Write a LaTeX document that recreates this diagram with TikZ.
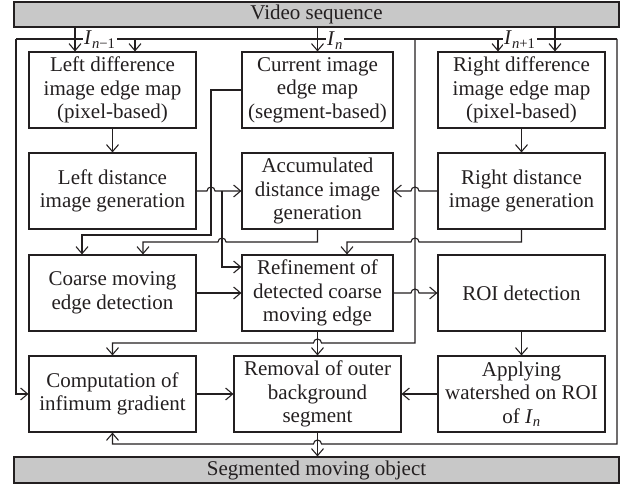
\documentclass[tikz,border=0pt]{standalone}
\usepackage{fontspec}
\setmainfont{Liberation Serif}
\usetikzlibrary{arrows.meta,calc}
\definecolor{ln}{HTML}{231F20}
\definecolor{barfill}{HTML}{C8C8C8}
\tikzset{
  txt/.style={font=\fontsize{21}{23.5}\selectfont, text=ln},
  box/.style={txt, draw=ln, line width=1.1pt, minimum width=167pt, minimum height=76pt, inner sep=0pt, align=center},
  narrow/.style={minimum width=151pt},
  bar/.style={txt, draw=ln, fill=barfill, line width=1.1pt, minimum width=605pt, minimum height=25pt, inner sep=0pt},
  wire/.style={draw=ln, line width=1.1pt},
  conn/.style={wire, -{Straight Barb[length=7pt,width=12pt]}},
  lab/.style={txt, fill=white, inner sep=1pt, anchor=base west}
}
\begin{document}
\begin{tikzpicture}[x=1pt,y=-1pt]
\useasboundingbox (0,0) rectangle (629,486);
% bars
\node[bar] (vs) at (316.5,14.5) {Video sequence};
\node[bar, minimum height=26pt] (so) at (316.5,470) {Segmented moving object};
% boxes
\node[box] (ldm) at (112.5,90) {Left difference\\image edge map\\(pixel-based)};
\node[box,narrow] (cur) at (317.5,90) {Current image\\edge map\\(segment-based)};
\node[box] (rdm) at (521.5,90) {Right difference\\image edge map\\(pixel-based)};
\node[box] (ldi) at (112.5,191) {Left distance\\image generation};
\node[box,narrow] (acc) at (317.5,191) {Accumulated\\distance image\\generation};
\node[box] (rdi) at (521.5,191) {Right distance\\image generation};
\node[box] (cme) at (112.5,293) {Coarse moving\\edge detection};
\node[box,narrow] (ref) at (317.5,293) {Refinement of\\detected coarse\\moving edge};
\node[box] (roi) at (521.5,293) {ROI detection};
\node[box] (cig) at (112.5,394) {Computation of\\infimum gradient};
\node[box] (rob) at (317.5,394) {Removal of outer\\background\\segment};
\node[box] (aws) at (521.5,394) {Applying\\watershed on ROI\\of \textit{I}\textsubscript{\textit{n}}};
% tracks
\coordinate (tIm) at (75,0);
\coordinate (tIp) at (555,0);
\coordinate (tL2) at (135,0);
\coordinate (tR2) at (498,0);
\coordinate (busL) at (16,39);
\coordinate (busR) at (617,39);
\coordinate (tMid) at (415,0);
\coordinate (tC) at (211,0);
\coordinate (tB) at (222,0);
\coordinate (tCa) at (82,0);
\coordinate (tCb) at (143,0);
\coordinate (tRr) at (347,0);
\coordinate (yC) at (0,235);
\coordinate (yAc) at (0,242);
\coordinate (yRa) at (0,267);
\coordinate (yTop) at (0,343);
\coordinate (yBot) at (0,444);
% inputs from video sequence
\draw[conn] (vs.south -| tIm) -- (ldm.north -| tIm);
\draw[conn] (vs.south -| cur.north) -- (cur.north);
\draw[conn] (vs.south -| tIp) -- (rdm.north -| tIp);
% I_n bus
\draw[wire] (busL) -- (busR);
\draw[conn] (busL -| tL2) -- (ldm.north -| tL2);
\draw[conn] (busL -| tR2) -- (rdm.north -| tR2);
\draw[conn] (busL) |- (cig.west);
\draw[conn] (busL -| tMid) -- (tMid |- yTop) -- ($(ref.south |- yTop)+(4,0)$) arc[start angle=0,end angle=180,radius=4pt] -- (cig.north |- yTop) -- (cig.north);
\draw[conn] (busR) -- (busR |- yBot) -- ($(rob.south |- yBot)+(4,0)$) arc[start angle=0,end angle=180,radius=4pt] -- (cig.south |- yBot) -- (cig.south);
% current -> coarse
\draw[conn] (cur.west) -- (cur.west -| tC) -- (tC |- yC) -- (tCa |- yC) -- (cme.north -| tCa);
% left distance -> accumulated, refinement
\draw[conn] (ldi.east) -- ($(ldi.east -| tC)+(-4,0)$) arc[start angle=180,end angle=0,radius=4pt] -- (acc.west);
\draw[conn] (ldi.east -| tB) -- (tB |- yRa) -- (ref.west |- yRa);
% accumulated -> coarse
\draw[conn] (acc.south) -- (acc.south |- yAc) -- ($(tB |- yAc)+(4,0)$) arc[start angle=0,end angle=180,radius=4pt] -- (tCb |- yAc) -- (cme.north -| tCb);
% right distance -> accumulated, refinement
\draw[conn] (rdi.west) -- ($(rdi.west -| tMid)+(4,0)$) arc[start angle=0,end angle=180,radius=4pt] -- (acc.east);
\draw[conn] (rdi.south) -- (rdi.south |- yAc) -- ($(tMid |- yAc)+(4,0)$) arc[start angle=0,end angle=180,radius=4pt] -- (tRr |- yAc) -- (ref.north -| tRr);
% straight flows
\draw[conn] (ldm.south) -- (ldi.north);
\draw[conn] (rdm.south) -- (rdi.north);
\draw[conn] (cme.east) -- (ref.west);
\draw[conn] (ref.east) -- ($(ref.east -| tMid)+(-4,0)$) arc[start angle=180,end angle=0,radius=4pt] -- (roi.west);
\draw[conn] (roi.south) -- (aws.north);
\draw[conn] (ref.south) -- (rob.north);
\draw[conn] (cig.east) -- (rob.west);
\draw[conn] (aws.west) -- (rob.east);
\draw[conn] (rob.south) -- (so.north -| rob.south);
% labels
\node[lab] (l1) at (83,45) {\textit{I}\textsubscript{\textit{n}−1}};
\node[lab] (l2) at (326,46) {\textit{I}\textsubscript{\textit{n}}};
\node[lab] (l3) at (503,45) {\textit{I}\textsubscript{\textit{n}+1}};
\end{tikzpicture}
\end{document}
